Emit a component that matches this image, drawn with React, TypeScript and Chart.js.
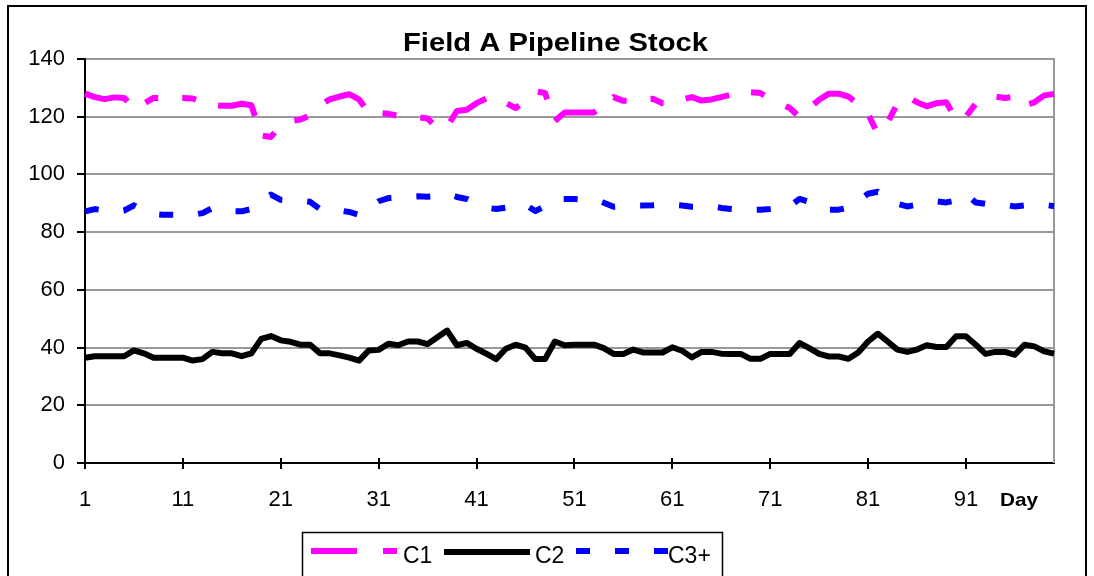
import { useEffect, useRef } from 'react';
import { Chart, registerables } from 'chart.js';

Chart.register(...registerables);

const days = [
  '1', '2', '3', '4', '5', '6', '7', '8', '9', '10',
  '11', '12', '13', '14', '15', '16', '17', '18', '19', '20',
  '21', '22', '23', '24', '25', '26', '27', '28', '29', '30',
  '31', '32', '33', '34', '35', '36', '37', '38', '39', '40',
  '41', '42', '43', '44', '45', '46', '47', '48', '49', '50',
  '51', '52', '53', '54', '55', '56', '57', '58', '59', '60',
  '61', '62', '63', '64', '65', '66', '67', '68', '69', '70',
  '71', '72', '73', '74', '75', '76', '77', '78', '79', '80',
  '81', '82', '83', '84', '85', '86', '87', '88', '89', '90',
  '91', '92', '93', '94', '95', '96', '97', '98', '99', '100',
];

const xTickLabels = ['1', '11', '21', '31', '41', '51', '61', '71', '81', '91'];

const c1 = [
  128, 126.8, 126.1, 126.7, 126.5, 123, 124.5, 126.5, 126.5, 126.5,
  126.5, 126.3, 125, 124, 123.8, 123.8, 124.5, 124, 113.5, 113,
  117, 118.5, 119, 120.5, 124, 126, 127, 127.8, 126, 121.3,
  121.3, 121, 120.3, 120, 119.8, 119.4, 116, 116.5, 122, 122.4,
  124.7, 126.3, 126, 124.8, 123, 125.5, 128.8, 128.2, 118.5, 121.5,
  121.5, 121.5, 121.5, 124, 126.8, 125.5, 125.5, 126, 126.2, 124.7,
  124.5, 126, 126.8, 125.6, 126, 126.8, 127.6, 128, 128.5, 128.2,
  126.1, 124.5, 123, 119.9, 123, 125.9, 128, 128, 127, 124.2,
  121, 114, 118, 124.5, 127, 125, 123.6, 124.7, 125, 119,
  120, 124.5, 127, 127, 126.5, 127, 123.8, 125, 127.4, 127.9,
];

const c2 = [
  36.5, 37, 37, 37, 37, 39, 38, 36.5, 36.5, 36.5,
  36.5, 35.5, 36, 38.5, 38, 38, 37, 38, 43, 44,
  42.5, 42, 41, 41, 38, 38, 37.3, 36.5, 35.5, 39,
  39.2, 41.3, 40.8, 42.1, 42.1, 41.2, 43.6, 45.9, 40.8, 41.6,
  39.6, 37.9, 36, 39.6, 41, 40, 36, 36, 42.1, 40.8,
  41, 41, 41, 39.8, 37.8, 37.8, 39.3, 38.3, 38.3, 38.3,
  40.1, 38.9, 36.6, 38.5, 38.5, 37.9, 37.8, 37.8, 36.1, 36.1,
  37.8, 37.8, 37.8, 41.6, 39.8, 37.8, 36.9, 36.9, 36.1, 38.3,
  42.1, 44.8, 42.1, 39.3, 38.5, 39.3, 40.8, 40.2, 40.2, 43.9,
  43.9, 41, 37.8, 38.5, 38.5, 37.5, 41, 40.4, 38.7, 37.9,
];

const c3 = [
  87.2, 88, 87.5, 87, 87.5, 89.3, 87.5, 86.3, 86, 86,
  86, 86, 86.6, 88.3, 88, 87.2, 87.2, 88, 90.5, 93,
  91.2, 91, 91, 90.5, 88, 87.5, 87.5, 87, 86, 88.5,
  90.7, 91.8, 92, 92.2, 92.4, 92.3, 92.5, 93.3, 92.2, 91.5,
  90, 88.5, 88, 88.5, 89, 89.5, 87.3, 89, 91.5, 91.5,
  91.5, 91.3, 91.5, 90.2, 88.8, 89, 89.2, 89.2, 89.3, 89.5,
  89.5, 89.2, 88.8, 88.8, 89, 88.4, 88, 87.8, 87.8, 87.8,
  88, 88.3, 89, 91.5, 90.5, 88.5, 87.8, 87.8, 88.5, 91,
  93.3, 94, 91.5, 89.8, 88.9, 89.5, 90, 90.7, 90.3, 91,
  93.3, 90.3, 89.8, 89.5, 89.5, 88.9, 89.3, 89.5, 89.5, 89,
];

const seriesNames = ['C1', 'C2', 'C3+'];
const chartTitle = 'Field A Pipeline Stock';
const xAxisTitle = 'Day';

const FONT = '"Liberation Sans", Arial, Helvetica, sans-serif';
const MAGENTA = '#ff00ff';
const BLUE = '#0000ff';
const C1_DASH = [45, 22, 14, 24, 14, 23];
const C3_DASH = [14, 25];

function drawScaledText(ctx: CanvasRenderingContext2D, text: string, font: string, cx: number, baseline: number, targetWidth: number) {
  ctx.save();
  ctx.font = font;
  ctx.fillStyle = '#000';
  ctx.textAlign = 'center';
  ctx.textBaseline = 'alphabetic';
  const w = ctx.measureText(text).width;
  const sx = targetWidth / w;
  ctx.translate(cx, baseline);
  ctx.scale(sx, 1);
  ctx.fillText(text, 0, 0);
  ctx.restore();
}

function drawSample(ctx: CanvasRenderingContext2D, x1: number, x2: number, y: number, color: string, dash: number[]) {
  ctx.save();
  ctx.strokeStyle = color;
  ctx.lineWidth = 6;
  ctx.lineCap = 'butt';
  ctx.setLineDash(dash);
  ctx.beginPath();
  ctx.moveTo(x1, y);
  ctx.lineTo(x2, y);
  ctx.stroke();
  ctx.restore();
}

const decorPlugin = {
  id: 'decor',
  beforeDraw(chart: any) {
    const ctx = chart.ctx as CanvasRenderingContext2D;
    ctx.save();
    ctx.fillStyle = '#ffffff';
    ctx.fillRect(0, 0, chart.width, chart.height);
    ctx.restore();
  },
  beforeDatasetsDraw(chart: any) {
    const ctx = chart.ctx as CanvasRenderingContext2D;
    const { chartArea, scales } = chart;
    ctx.save();
    // right plot border (gray)
    ctx.strokeStyle = '#999999';
    ctx.lineWidth = 2;
    ctx.beginPath();
    ctx.moveTo(chartArea.right, chartArea.top - 1);
    ctx.lineTo(chartArea.right, chartArea.bottom);
    ctx.stroke();
    // x tick marks crossing the axis
    ctx.strokeStyle = '#000';
    ctx.lineWidth = 2;
    const xs = scales.x;
    const yb = chartArea.bottom;
    xTickLabels.forEach((lab) => {
      const px = Math.round(xs.getPixelForValue(days.indexOf(lab)));
      ctx.beginPath();
      ctx.moveTo(px, yb - 5);
      ctx.lineTo(px, yb + 6);
      ctx.stroke();
    });
    ctx.restore();
  },
  afterDraw(chart: any) {
    const ctx = chart.ctx as CanvasRenderingContext2D;
    ctx.save();
    // outer frame
    ctx.strokeStyle = '#000';
    ctx.lineWidth = 2;
    ctx.strokeRect(8, 6, 1078, 620);

    // title
    drawScaledText(ctx, chartTitle, `bold 26px ${FONT}`, 555.5, 51, 305);
    // x axis title
    drawScaledText(ctx, xAxisTitle, `bold 19px ${FONT}`, 1019, 506, 38);

    // legend box
    ctx.strokeStyle = '#000';
    ctx.lineWidth = 1.5;
    ctx.strokeRect(302.5, 532.5, 420, 80);

    drawSample(ctx, 311, 397, 551, MAGENTA, [46, 26, 14, 26]);
    drawSample(ctx, 444, 530, 552, '#000', []);
    drawSample(ctx, 576, 668, 551, BLUE, C3_DASH);

    ctx.font = `23px ${FONT}`;
    ctx.fillStyle = '#000';
    ctx.textAlign = 'left';
    ctx.textBaseline = 'alphabetic';
    ctx.fillText(seriesNames[0], 403, 563);
    ctx.fillText(seriesNames[1], 535, 563);
    ctx.fillText(seriesNames[2], 668, 563);
    ctx.restore();
  },
};

export default function App() {
  const canvasRef = useRef<HTMLCanvasElement | null>(null);

  useEffect(() => {
    const canvas = canvasRef.current;
    if (!canvas) return;
    const chart = new Chart(canvas, {
      type: 'line',
      data: {
        labels: days,
        datasets: [
          {
            label: seriesNames[0],
            data: c1,
            borderColor: MAGENTA,
            borderWidth: 6,
            borderDash: C1_DASH,
            borderCapStyle: 'butt',
            borderJoinStyle: 'round',
            pointRadius: 0,
            tension: 0,
            fill: false,
          },
          {
            label: seriesNames[1],
            data: c2,
            borderColor: '#000000',
            borderWidth: 6,
            borderCapStyle: 'butt',
            borderJoinStyle: 'round',
            pointRadius: 0,
            tension: 0,
            fill: false,
          },
          {
            label: seriesNames[2],
            data: c3,
            borderColor: BLUE,
            borderWidth: 6,
            borderDash: C3_DASH,
            borderCapStyle: 'butt',
            borderJoinStyle: 'round',
            pointRadius: 0,
            tension: 0,
            fill: false,
          },
        ],
      },
      options: {
        responsive: false,
        animation: false,
        devicePixelRatio: 1,
        layout: { padding: { left: 0, right: 40, top: 59, bottom: 0 } },
        plugins: {
          legend: { display: false },
          title: { display: false },
          tooltip: { enabled: false },
        },
        scales: {
          x: {
            type: 'category',
            offset: false,
            grid: { display: false, drawTicks: false },
            border: { display: true, color: '#000', width: 2 },
            ticks: {
              autoSkip: false,
              maxRotation: 0,
              minRotation: 0,
              padding: 24,
              color: '#000',
              font: { family: FONT, size: 22 },
              callback: (_v: any, i: number) => (xTickLabels.includes(days[i]) ? days[i] : ''),
            },
            afterFit: (scale: any) => {
              scale.height = 113;
            },
          },
          y: {
            min: 0,
            max: 140,
            grid: {
              color: '#999999',
              lineWidth: 2,
              tickLength: 8,
              tickColor: '#000',
              tickWidth: 2,
            },
            border: { display: true, color: '#000', width: 2 },
            ticks: {
              stepSize: 20,
              padding: 12,
              color: '#000',
              font: { family: FONT, size: 22 },
            },
            afterFit: (scale: any) => {
              scale.width = 85;
            },
          },
        },
      },
      plugins: [decorPlugin],
    });
    return () => chart.destroy();
  }, []);

  return (
    <div style={{ position: 'fixed', left: 0, top: 0, width: 1094, height: 576, background: '#fff' }}>
      <canvas ref={canvasRef} width={1094} height={576} style={{ display: 'block' }} />
    </div>
  );
}
